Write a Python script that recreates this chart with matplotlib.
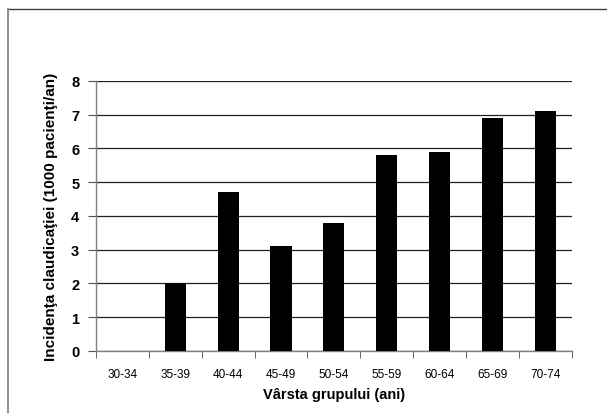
import matplotlib
matplotlib.use("Agg")
import matplotlib.pyplot as plt
from matplotlib.lines import Line2D
import numpy as np

plt.rcParams['font.family'] = ['Liberation Sans', 'DejaVu Sans']

# data
categories = ['30-34', '35-39', '40-44', '45-49', '50-54', '55-59', '60-64', '65-69', '70-74']
incidence = [0, 2.0, 4.7, 3.1, 3.8, 5.8, 5.9, 6.9, 7.1]
y_ticks = [0, 1, 2, 3, 4, 5, 6, 7, 8]

fig = plt.figure(figsize=(6.07, 4.14), dpi=100)
ax = fig.add_axes([0.158, 0.150, 0.784, 0.652])

x = np.arange(len(categories))
ax.bar(x, incidence, width=0.4, color='black', zorder=3)

ax.set_xlim(-0.5, len(categories) - 0.5)
ax.set_ylim(0, 8)
ax.set_yticks(y_ticks)
ax.set_yticklabels([str(t) for t in y_ticks], fontsize=10.5, fontweight='bold')
ax.set_xticks(x)
ax.set_xticklabels(categories, fontsize=8.5)
ax.set_xticks(np.arange(-0.5, len(categories)), minor=True)
ax.tick_params(axis='x', which='major', length=0, pad=12)
ax.tick_params(axis='x', which='minor', length=5, color='#505050', direction='out')
ax.tick_params(axis='y', length=6, color='#505050', direction='out', pad=6)

ax.grid(axis='y', color='#202020', linewidth=0.9, zorder=0)
for s in ['top', 'right']:
    ax.spines[s].set_visible(False)
for s in ['left', 'bottom']:
    ax.spines[s].set_color('#808080')
    ax.spines[s].set_linewidth(1.0)

ax.set_xlabel('Vârsta grupului (ani)', fontsize=10.5, fontweight='bold', labelpad=5)
ax.set_ylabel('Incidenţa claudicaţiei (1000 pacienţi/an)', fontsize=11, fontweight='bold', labelpad=9)

# frame around the picture (top and left only)
W, H = 607, 414
fig.add_artist(Line2D([8 / W, 1.0], [1 - 10 / H, 1 - 10 / H], color='#404040', linewidth=1.0,
                      transform=fig.transFigure))
fig.add_artist(Line2D([8 / W, 8 / W], [0.0, 1 - 10 / H], color='#909090', linewidth=1.5,
                      transform=fig.transFigure))

fig.savefig('out.png', dpi=100)
